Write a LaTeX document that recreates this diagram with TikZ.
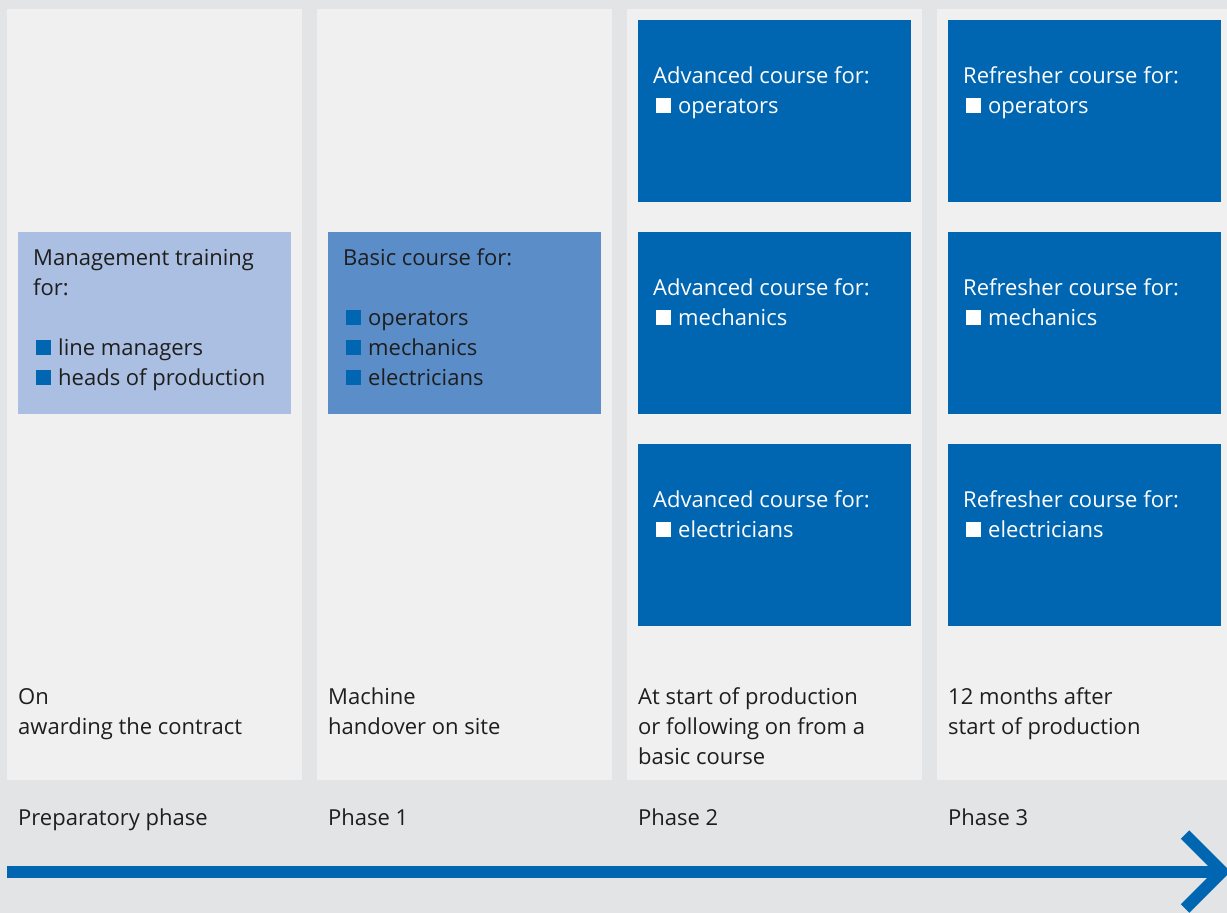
\documentclass[tikz,border=0pt]{standalone}
\usepackage{fontspec}
\setmainfont{Open Sans}
\definecolor{bggray}{HTML}{E3E4E6}
\definecolor{panelgray}{HTML}{F0F0F0}
\definecolor{darkblue}{HTML}{0066B1}
\definecolor{paleblue}{HTML}{ABBFE2}
\definecolor{midblue}{HTML}{5B8DC8}
\definecolor{textdark}{HTML}{1E1E1E}
\newcommand{\sqbul}[1]{\kern3pt{\color{#1}\rule{15pt}{15pt}}\kern7pt}
\begin{document}
\begin{tikzpicture}[x=1pt,y=-1pt,line join=miter,
  txt/.style={anchor=base west,inner sep=0pt,align=left,
    font=\fontsize{22}{30}\selectfont,text=textdark},
  whitetxt/.style={txt,text=white}]
\path
(0,0) coordinate (NW)
(1227,913) coordinate (SE)
(7,871.5) coordinate (arrowstart)
(1222,871.5) coordinate (arrowtip)
;
\useasboundingbox (NW) rectangle (SE);
\fill[bggray] (NW) rectangle (SE);
% columns
\foreach \x in {7,317,627,937}
  \fill[panelgray] (\x,9) rectangle ++(295,771);
% preparatory phase and phase 1 (base = last line)
\fill[paleblue] (18,232) rectangle (291,414);
\fill[midblue] (328,232) rectangle (601,414);
\node[txt] (mgmt) at (33,385) {Management training\\for:\\ \\
  \sqbul{darkblue}line managers\\\sqbul{darkblue}heads of production};
\node[txt] (basic) at (343,385) {Basic course for:\\ \\
  \sqbul{darkblue}operators\\\sqbul{darkblue}mechanics\\\sqbul{darkblue}electricians};
% phase 2 and 3
\foreach \x/\kind in {638/Advanced,948/Refresher}
  \foreach \y/\who in {20/operators,232/mechanics,444/electricians} {
    \fill[darkblue] (\x,\y) rectangle ++(273,182);
    \node[whitetxt] (\kind-\who) at (\x+15,\y+93)
      {\kind{} course for:\\\sqbul{white}\who};
  }
% when
\node[txt] (when0) at (18,734) {On\\awarding the contract};
\node[txt] (when1) at (328,734) {Machine\\handover on site};
\node[txt] (when2) at (638,764) {At start of production\\or following on from a\\basic course};
\node[txt] (when3) at (948,734) {12 months after\\start of production};
% phases
\node[txt] (phase0) at (18,825) {Preparatory phase};
\node[txt] (phase1) at (328,825) {Phase 1};
\node[txt] (phase2) at (638,825) {Phase 2};
\node[txt] (phase3) at (948,825) {Phase 3};
% time arrow
\draw[darkblue,line width=12pt] (arrowstart) -- (arrowtip);
\draw[darkblue,line width=12pt] (arrowtip) ++(-37,-37) -- (arrowtip) -- ++(-37,37);
\end{tikzpicture}
\end{document}
